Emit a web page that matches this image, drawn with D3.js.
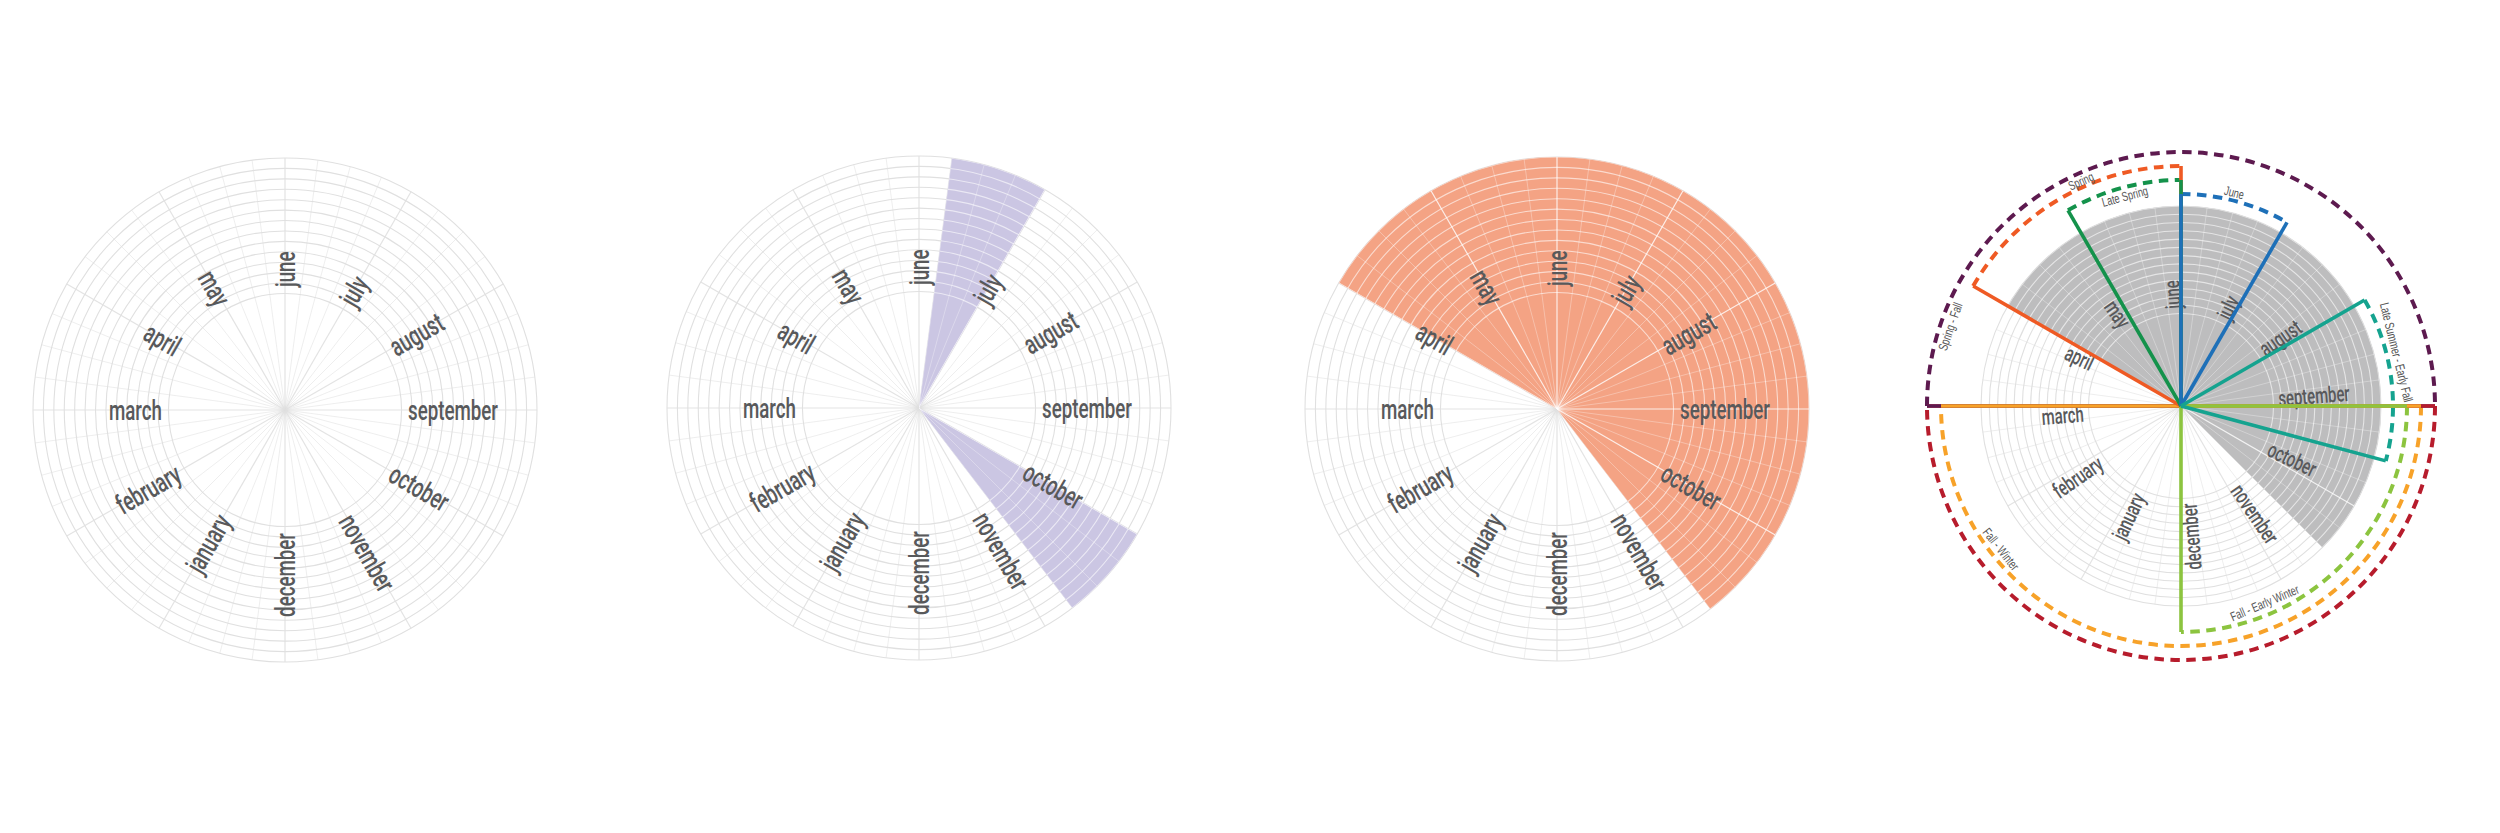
<!DOCTYPE html>
<html>
<head>
<meta charset="utf-8">
<script src="https://cdn.jsdelivr.net/npm/d3@7"></script>
<style>
  body { margin: 0; background: #fff; }
  svg { display: block; }
</style>
</head>
<body>
<svg id="chart" width="2500" height="833"></svg>
<script>
// month labels, clockwise from the top spoke
const months = ['june', 'july', 'august', 'september', 'october', 'november',
                'december', 'january', 'february', 'march', 'april', 'may'];
const weeksPerMonth = 4;
const ringCount = 13;

// shaded spans, in weeks counted clockwise from the top spoke
const purpleSpans = [[1, 4], [16, 19]];
const orangeSpans = [[-8, 19]];
const greySpans = [[-8, 18]];

// season brackets drawn round the last wheel
const seasonNames = ['Spring - Fall', '', 'Spring', 'Late Spring', 'June',
                     'Late Summer - Early Fall', 'Fall - Early Winter', 'Fall - Winter'];
const seasonStart = [-12, 12, -8, -4, 0, 8, 12, 12];
const seasonEnd   = [12, 36, 0, 0, 4, 14, 24, 36];
const seasonLevel = [4, 4, 3, 2, 1, 1, 2, 3];

// ---- layout / style ----
const seasonColors = ['#5d1a4f', '#b71c2c', '#ef5a24', '#14924b', '#1e70b8',
                      '#15a38f', '#8cc43f', '#f7a229'];
// where each bracket's name sits (degrees clockwise from top, px off the arc)
const seasonLabelDeg = [-71, 0, -24, -15, 14, 76, 157, 231.5];
const seasonLabelOff = [-10, 0, 6, -9, 8, 10, -12, -10];

const svg = d3.select('#chart');
svg.append('rect').attr('width', 2500).attr('height', 833).attr('fill', '#fff');

const monthFont = "Roboto, 'Liberation Sans', sans-serif";
const noteFont = "'Liberation Sans', Arial, sans-serif";

// measure how much the fonts must be squeezed to match the narrow face of the original
function squeeze(text, size, font, weight, target) {
  const t = svg.append('text').attr('font-family', font).attr('font-size', size)
    .attr('font-weight', weight).text(text);
  const w = t.node().getComputedTextLength();
  t.remove();
  return target / w;
}
const monthSx = squeeze('september', 28, monthFont, 500, 90);
const noteSx = squeeze('Late Summer - Early Fall', 13, noteFont, 400, 102);

const angle = d3.scaleLinear().domain([0, months.length * weeksPerMonth]).range([0, 2 * Math.PI]);

function drawGrid(layer, R, color, op) {
  const ring = d3.scaleLinear().domain([0, ringCount]).range([R * 0.4625, R]);
  layer.append('g').selectAll('circle').data(d3.range(ringCount + 1)).join('circle')
    .attr('r', d => ring(d))
    .attr('fill', 'none')
    .attr('stroke', color)
    .attr('stroke-opacity', op[0])
    .attr('stroke-width', 1.1);
  layer.append('g').selectAll('line').data(d3.range(months.length * weeksPerMonth)).join('line')
    .attr('x1', 0).attr('y1', 0)
    .attr('x2', d => R * Math.sin(angle(d)))
    .attr('y2', d => -R * Math.cos(angle(d)))
    .attr('stroke', color)
    .attr('stroke-opacity', d => d % weeksPerMonth === 0 ? op[1] : op[2])
    .attr('stroke-width', d => d % weeksPerMonth === 0 ? 1.2 : 0.9);
}

let clipId = 0;
// shift: label offset in weeks (the last wheel sets its names a little anticlockwise)
function wheel(cx, cy, R, spans, fill, shift) {
  const k = R / 252;
  const g = svg.append('g').attr('transform', `translate(${cx},${cy})`);
  const arc = d3.arc().innerRadius(0).outerRadius(R)
    .startAngle(d => angle(d[0])).endAngle(d => angle(d[1]));

  drawGrid(g.append('g'), R, '#e0e0e0', [1, 0.9, 0.6]);

  if (spans.length) {
    g.append('g').selectAll('path').data(spans).join('path')
      .attr('d', arc).attr('fill', fill);
    const id = 'clip' + (clipId++);
    g.append('clipPath').attr('id', id).selectAll('path').data(spans).join('path').attr('d', arc);
    drawGrid(g.append('g').attr('clip-path', `url(#${id})`), R, '#ffffff', [0.6, 0.8, 0.35]);
  }

  const rl = 123 * k;
  const lab = g.append('g').selectAll('g').data(months).join('g')
    .attr('transform', (d, i) => {
      const a = angle(i * weeksPerMonth + shift);
      const deg = angle(i * weeksPerMonth) * 180 / Math.PI;
      const rot = (deg < 180 ? deg - 90 : deg + 90) + (a * 180 / Math.PI - deg);
      return `translate(${rl * Math.sin(a)},${-rl * Math.cos(a)}) rotate(${rot})`;
    });
  lab.append('text')
    .attr('transform', `scale(${monthSx},1)`)
    .attr('text-anchor', (d, i) => angle(i * weeksPerMonth) < Math.PI ? 'start' : 'end')
    .attr('dy', '0.36em')
    .attr('font-family', monthFont)
    .attr('font-weight', 500)
    .attr('font-size', 28 * k)
    .attr('fill', '#58595b')
    .text(d => d);
  return g;
}

wheel(285, 410, 252, [], null, 0);
wheel(919, 408, 252, purpleSpans, '#cbc6e3', 0);
wheel(1557, 409, 252, orangeSpans, '#f4a384', 0);
const g4 = wheel(2181, 406, 200, greySpans, '#bdbdbe', -0.6);

// season brackets
const level = d3.scaleLinear().domain([1, 4]).range([212, 254]);
const seasons = seasonNames.map((name, i) => ({
  name, i, a0: angle(seasonStart[i]), a1: angle(seasonEnd[i]), r: level(seasonLevel[i])
}));

g4.append('g').selectAll('path').data(seasons).join('path')
  .attr('d', d => {
    const p = d3.path();
    p.arc(0, 0, d.r, d.a0 - Math.PI / 2, d.a1 - Math.PI / 2, false);
    return p.toString();
  })
  .attr('fill', 'none')
  .attr('stroke', d => seasonColors[d.i])
  .attr('stroke-width', 4)
  .attr('stroke-dasharray', '9.5,6.5');

// radial lines: outer brackets first, and at a shared angle a start line covers an end line
const spokes = d3.sort(
  seasons.flatMap(d => [{ s: d, a: d.a1, end: 1 }, { s: d, a: d.a0, end: 0 }]),
  (p, q) => d3.descending(p.s.r, q.s.r) || d3.descending(p.end, q.end)
);
g4.append('g').selectAll('line').data(spokes).join('line')
  .attr('x1', 0).attr('y1', 0)
  .attr('x2', d => d.s.r * Math.sin(d.a))
  .attr('y2', d => -d.s.r * Math.cos(d.a))
  .attr('stroke', d => seasonColors[d.s.i])
  .attr('stroke-width', 3.6);

g4.append('g').selectAll('text').data(seasons.filter(d => d.name)).join('text')
  .attr('transform', d => {
    const deg = seasonLabelDeg[d.i];
    const a = deg * Math.PI / 180;
    const r = d.r + seasonLabelOff[d.i];
    const bottom = Math.cos(a) < 0;
    return `translate(${r * Math.sin(a)},${-r * Math.cos(a)}) rotate(${bottom ? deg - 180 : deg}) scale(${noteSx},1)`;
  })
  .attr('text-anchor', 'middle')
  .attr('dy', '0.35em')
  .attr('font-family', noteFont)
  .attr('font-size', 13)
  .attr('fill', '#555')
  .text(d => d.name);
</script>
</body>
</html>
